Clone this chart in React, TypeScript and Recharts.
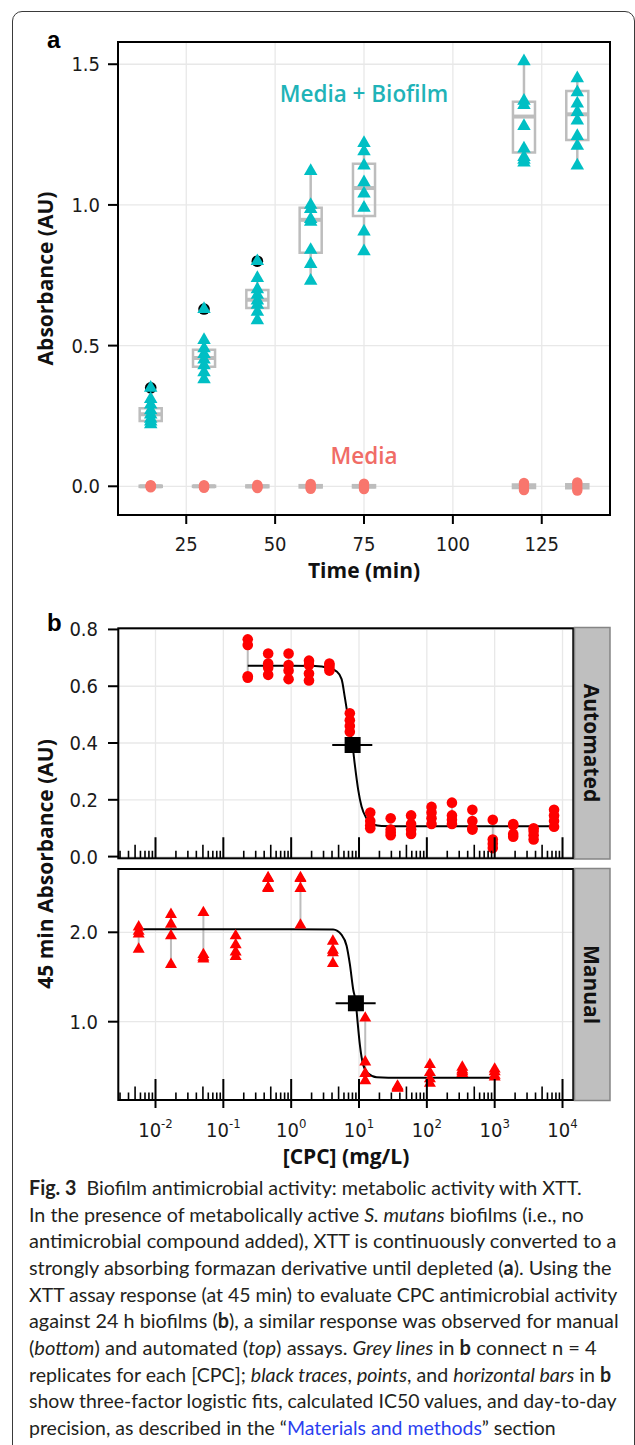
import React from "react";
import {
  ComposedChart,
  Scatter,
  Line,
  XAxis,
  YAxis,
  CartesianGrid,
  ReferenceLine,
  ReferenceArea,
} from "recharts";

// ---------------- Panel a data ----------------
const TIMES = [15, 30, 45, 60, 75, 120, 135];
const X_TICKS_A = [25, 50, 75, 100, 125];
const Y_TICKS_A = [0, 0.5, 1, 1.5];

const BIOFILM = [
  [0.35, 0.31, 0.29, 0.27, 0.255, 0.24, 0.23, 0.22],
  [0.63, 0.52, 0.49, 0.47, 0.45, 0.43, 0.405, 0.38],
  [0.8, 0.74, 0.7, 0.68, 0.66, 0.645, 0.62, 0.59],
  [1.12, 1.0, 0.985, 0.95, 0.94, 0.84, 0.79, 0.73],
  [1.22, 1.19, 1.14, 1.08, 1.04, 0.99, 0.905, 0.835],
  [1.51, 1.37, 1.355, 1.28, 1.2, 1.17, 1.16, 1.15],
  [1.45, 1.4, 1.36, 1.33, 1.3, 1.245, 1.21, 1.14],
];
const BIOFILM_OUTLIER = [0.35, 0.63, 0.8, null, null, null, null];
const BOX_LO = [0.22, 0.38, 0.59, 0.73, 0.835, 1.15, 1.14];
const BOX_Q1 = [0.232, 0.425, 0.634, 0.83, 0.961, 1.186, 1.231];
const BOX_MED = [0.256, 0.456, 0.663, 0.947, 1.06, 1.314, 1.322];
const BOX_Q3 = [0.277, 0.485, 0.698, 0.99, 1.146, 1.367, 1.405];
const BOX_HI = [0.31, 0.52, 0.74, 1.12, 1.22, 1.51, 1.45];

const MEDIA = [
  [0.004, 0.0, -0.004, 0.002],
  [0.004, 0.001, -0.003, -0.005],
  [0.005, 0.001, -0.003, -0.006],
  [0.008, 0.003, -0.004, -0.009],
  [0.009, 0.003, -0.004, -0.01],
  [0.012, 0.004, -0.005, -0.013],
  [0.014, 0.005, -0.006, -0.015],
];
const MEDIA_Q1 = [-0.002, -0.002, -0.003, -0.004, -0.004, -0.006, -0.007];
const MEDIA_MED = [0, 0, 0, 0, 0, 0, 0];
const MEDIA_Q3 = [0.002, 0.002, 0.003, 0.004, 0.004, 0.006, 0.007];

// ---------------- Panel b data ----------------
const AUTO_CONC = [0.229, 0.458, 0.916, 1.83, 3.66, 7.32, 14.65, 29.3, 58.6, 117.2, 234.4, 468.8, 937.5, 1875, 3750, 7500];
const AUTO_VALS = [
  [0.765, 0.745, 0.635, 0.63],
  [0.715, 0.68, 0.665, 0.64],
  [0.715, 0.675, 0.655, 0.625],
  [0.69, 0.675, 0.645, 0.62],
  [0.68, 0.675, 0.665, 0.655],
  [0.505, 0.48, 0.46, 0.44],
  [0.155, 0.125, 0.11, 0.1],
  [0.135, 0.095, 0.085, 0.075],
  [0.145, 0.115, 0.095, 0.08],
  [0.175, 0.155, 0.135, 0.115],
  [0.19, 0.145, 0.13, 0.115],
  [0.165, 0.125, 0.1, 0.095],
  [0.13, 0.06, 0.045, 0.03],
  [0.115, 0.11, 0.08, 0.07],
  [0.1, 0.09, 0.075, 0.06],
  [0.165, 0.145, 0.125, 0.105],
];
const MANUAL_CONC = [0.00565, 0.0169, 0.0508, 0.152, 0.457, 1.37, 4.12, 12.35, 37.0, 111, 333, 1000];
const MANUAL_VALS = [
  [2.06, 2.01, 1.98, 1.81],
  [2.2, 2.09, 1.96, 1.64],
  [2.22, 1.75, 1.72, 1.7],
  [1.96, 1.86, 1.78, 1.73],
  [2.61, 2.6, 2.5, 2.49],
  [2.61, 2.6, 2.49, 2.08],
  [1.9, 1.8, 1.77, 1.65],
  [1.04, 0.55, 0.42, 0.34],
  [0.28, 0.27, 0.26, 0.255],
  [0.52, 0.43, 0.36, 0.31],
  [0.49, 0.46, 0.44, 0.42],
  [0.47, 0.44, 0.4, 0.38],
];
const AUTO_FIT_X = [0.229, 1.0, 2.24, 3.52, 4.68, 5.54, 6.19, 7.16, 8.05, 8.71, 9.73, 10.9, 12.9, 16.2, 21.5, 50, 7500];
const AUTO_FIT_Y = [0.672, 0.672, 0.671, 0.664, 0.652, 0.625, 0.56, 0.465, 0.39, 0.32, 0.235, 0.176, 0.135, 0.113, 0.108, 0.107, 0.107];
const MANUAL_FIT_X = [0.00565, 1.0, 4.16, 5.54, 6.56, 7.34, 8.21, 9.0, 9.52, 10.3, 11.5, 13.7, 18.2, 27, 1000];
const MANUAL_FIT_Y = [2.034, 2.034, 2.03, 1.97, 1.85, 1.64, 1.36, 1.206, 1.0, 0.74, 0.52, 0.42, 0.378, 0.374, 0.373];
const AUTO_IC50 = { x: 8.05, y: 0.393, lo: 4.03, hi: 15.7 };
const MANUAL_IC50 = { x: 9.0, y: 1.206, lo: 4.52, hi: 17.6 };
const X_TICKS_B = [0.01, 0.1, 1, 10, 100, 1000, 10000];
const Y_TICKS_AUTO = [0, 0.2, 0.4, 0.6, 0.8];
const Y_TICKS_MANUAL = [1, 2];
const LOG_DECADES = [0.001, 0.01, 0.1, 1, 10, 100, 1000, 10000];
const LOG_MULTS = [1, 2, 3, 4, 5, 6, 7, 8, 9];

// ---------------- styles ----------------
const TICK_FONT = "'Liberation Sans Narrow', 'Arial Narrow', 'DejaVu Sans Condensed', sans-serif";
const TITLE_FONT = "'Open Sans', 'Noto Sans', sans-serif";
const CAP_FONT = "Lato, 'Noto Sans', sans-serif";
const TEAL = "#00BFC4";
const SALMON = "#F8766D";
const RED = "#FF0000";
const BOX_GREY = "#bdbdbd";
const GRID = "#e8e8e8";
const BOX_HALF = 3.1;
const B_DOMAIN: [number, number] = [0.0028, 14420];
const A_X_DOMAIN: [number, number] = [5.8, 144.2];
const A_Y_DOMAIN: [number, number] = [-0.102, 1.579];
const AUTO_Y_DOMAIN: [number, number] = [-0.006, 0.804];
const MANUAL_Y_DOMAIN: [number, number] = [0.124, 2.708];

// ---------------- derived series ----------------
const biofilmPts = TIMES.flatMap((t, i) => BIOFILM[i].map((v) => ({ x: t, y: v })));
const outlierPts = TIMES.flatMap((t, i) => (BIOFILM_OUTLIER[i] == null ? [] : [{ x: t, y: BIOFILM_OUTLIER[i] as number }]));
const mediaPts = TIMES.flatMap((t, i) => MEDIA[i].map((v) => ({ x: t, y: v })));
const autoPts = AUTO_CONC.flatMap((c, i) => AUTO_VALS[i].map((v) => ({ x: c, y: v })));
const manualPts = MANUAL_CONC.flatMap((c, i) => MANUAL_VALS[i].map((v) => ({ x: c, y: v })));
const autoFit = AUTO_FIT_X.map((x, i) => ({ x, y: AUTO_FIT_Y[i] }));
const manualFit = MANUAL_FIT_X.map((x, i) => ({ x, y: MANUAL_FIT_Y[i] }));
const logTicks = (yBase: number) =>
  LOG_DECADES.flatMap((d) =>
    LOG_MULTS.map((m) => ({ x: d * m, y: yBase, kind: m === 1 ? "major" : m === 5 ? "mid" : "minor" }))
  ).filter((p) => p.x >= B_DOMAIN[0] && p.x <= B_DOMAIN[1]);

// ---------------- shapes ----------------
const tri = (fill: string, w: number) => (p: any) => {
  const { cx, cy } = p;
  if (cx == null || cy == null) return <g />;
  const h = w * 0.866;
  return (
    <polygon
      points={`${cx},${cy - (2 * h) / 3} ${cx - w / 2},${cy + h / 3} ${cx + w / 2},${cy + h / 3}`}
      fill={fill}
    />
  );
};
const dot = (fill: string, r: number) => (p: any) =>
  p.cx == null ? <g /> : <circle cx={p.cx} cy={p.cy} r={r} fill={fill} />;
const square = (s: number) => (p: any) =>
  p.cx == null ? <g /> : <rect x={p.cx - s / 2} y={p.cy - s / 2} width={s} height={s} fill="#000" />;
const logTickShape = (p: any) => {
  const kind = p.payload?.kind;
  const len = kind === "major" ? 21 : kind === "mid" ? 13.5 : 7.5;
  return <line x1={p.cx} x2={p.cx} y1={p.cy} y2={p.cy - len} stroke="#000" strokeWidth={kind === "major" ? 2 : 1.6} />;
};

// ---------------- ticks ----------------
const XTickA = (p: any) => (
  <text x={p.x} y={p.y} dy={24.5} textAnchor="middle" fontFamily={TICK_FONT} fontSize={20} fill="#1a1a1a">
    {p.payload.value}
  </text>
);
const YTick = (p: any) => (
  <text x={p.x} y={p.y} dy={7} textAnchor="end" fontFamily={TICK_FONT} fontSize={20} fill="#1a1a1a">
    {Number(p.payload.value).toFixed(1)}
  </text>
);
const XTickLog = (p: any) => {
  const e = Math.round(Math.log10(p.payload.value));
  return (
    <text x={p.x} y={p.y} dy={26.5} textAnchor="middle" fontFamily={TICK_FONT} fontSize={20} fill="#1a1a1a">
      <tspan>10</tspan>
      <tspan dy={-9} fontSize={13}>{String(e)}</tspan>
    </text>
  );
};

const tickLine = { stroke: "#000", strokeWidth: 2 };

function PanelA() {
  return (
    <ComposedChart width={635} height={600} margin={{ top: 42, right: 25, bottom: 0, left: 0 }}>
      <CartesianGrid stroke={GRID} strokeWidth={1.3} />
      <XAxis
        type="number"
        dataKey="x"
        domain={A_X_DOMAIN}
        allowDataOverflow
        ticks={X_TICKS_A}
        interval={0}
        height={85}
        axisLine={false}
        tickLine={tickLine}
        tickSize={9}
        tickMargin={2}
        tick={XTickA}
      />
      <YAxis
        type="number"
        dataKey="y"
        domain={A_Y_DOMAIN}
        allowDataOverflow
        ticks={Y_TICKS_A}
        interval={0}
        width={118}
        axisLine={false}
        tickLine={tickLine}
        tickSize={10}
        tickMargin={8}
        tick={YTick}
      />
      {TIMES.map((t, i) => (
        <ReferenceLine key={`wl${i}`} segment={[{ x: t, y: BOX_LO[i] }, { x: t, y: BOX_Q1[i] }]} stroke={BOX_GREY} strokeWidth={2.5} />
      ))}
      {TIMES.map((t, i) => (
        <ReferenceLine key={`wh${i}`} segment={[{ x: t, y: BOX_Q3[i] }, { x: t, y: BOX_HI[i] }]} stroke={BOX_GREY} strokeWidth={2.5} />
      ))}
      {TIMES.map((t, i) => (
        <ReferenceArea key={`bx${i}`} x1={t - BOX_HALF} x2={t + BOX_HALF} y1={BOX_Q1[i]} y2={BOX_Q3[i]} fill="none" fillOpacity={0} stroke={BOX_GREY} strokeWidth={2.5} />
      ))}
      {TIMES.map((t, i) => (
        <ReferenceLine key={`md${i}`} segment={[{ x: t - BOX_HALF, y: BOX_MED[i] }, { x: t + BOX_HALF, y: BOX_MED[i] }]} stroke={BOX_GREY} strokeWidth={4} />
      ))}
      {TIMES.map((t, i) => (
        <ReferenceArea key={`mbx${i}`} x1={t - BOX_HALF} x2={t + BOX_HALF} y1={MEDIA_Q1[i]} y2={MEDIA_Q3[i]} fill={BOX_GREY} stroke={BOX_GREY} strokeWidth={2.5} fillOpacity={1} />
      ))}
      {TIMES.map((t, i) => (
        <ReferenceLine key={`mmd${i}`} segment={[{ x: t - BOX_HALF, y: MEDIA_MED[i] }, { x: t + BOX_HALF, y: MEDIA_MED[i] }]} stroke={BOX_GREY} strokeWidth={4} />
      ))}
      <Scatter data={mediaPts} shape={dot(SALMON, 5.2)} isAnimationActive={false} />
      <Scatter data={outlierPts} shape={dot("#000", 5.8)} isAnimationActive={false} />
      <Scatter data={biofilmPts} shape={tri(TEAL, 13.5)} isAnimationActive={false} />
    </ComposedChart>
  );
}

function PanelB({ which }: { which: "auto" | "manual" }) {
  const auto = which === "auto";
  const pts = auto ? autoPts : manualPts;
  const conc = auto ? AUTO_CONC : MANUAL_CONC;
  const vals = auto ? AUTO_VALS : MANUAL_VALS;
  const fit = auto ? autoFit : manualFit;
  const ic = auto ? AUTO_IC50 : MANUAL_IC50;
  const yDom = auto ? AUTO_Y_DOMAIN : MANUAL_Y_DOMAIN;
  return (
    <ComposedChart
      width={635}
      height={auto ? 270 : 310}
      margin={auto ? { top: 28.3, right: 61.7, bottom: 11.7, left: 0 } : { top: 9, right: 61.7, bottom: 0, left: 0 }}
    >
      <CartesianGrid stroke={GRID} strokeWidth={1.3} />
      <XAxis
        type="number"
        dataKey="x"
        scale="log"
        domain={B_DOMAIN}
        allowDataOverflow
        ticks={X_TICKS_B}
        interval={0}
        hide={auto}
        height={70}
        axisLine={false}
        tickLine={tickLine}
        tickSize={8}
        tickMargin={2}
        tick={XTickLog}
      />
      <YAxis
        type="number"
        dataKey="y"
        domain={yDom}
        allowDataOverflow
        ticks={auto ? Y_TICKS_AUTO : Y_TICKS_MANUAL}
        interval={0}
        width={118}
        axisLine={false}
        tickLine={tickLine}
        tickSize={10}
        tickMargin={10}
        tick={YTick}
      />
      {conc.map((c, i) => (
        <ReferenceLine
          key={`g${i}`}
          segment={[{ x: c, y: Math.min(...vals[i]) }, { x: c, y: Math.max(...vals[i]) }]}
          stroke={BOX_GREY}
          strokeWidth={2}
        />
      ))}
      <Scatter data={pts} shape={auto ? dot(RED, 5.3) : tri(RED, 12)} isAnimationActive={false} />
      <Line data={fit} dataKey="y" type="monotone" dot={false} stroke="#000" strokeWidth={2} isAnimationActive={false} />
      <ReferenceLine segment={[{ x: ic.lo, y: ic.y }, { x: ic.hi, y: ic.y }]} stroke="#000" strokeWidth={2.2} />
      <Scatter data={[{ x: ic.x, y: ic.y }]} shape={square(16)} isAnimationActive={false} />
      <Scatter data={logTicks(yDom[0])} shape={logTickShape} isAnimationActive={false} />
    </ComposedChart>
  );
}

const B = ({ children }: any) => <tspan fontWeight={700}>{children}</tspan>;
const I = ({ children }: any) => <tspan fontStyle="italic">{children}</tspan>;

const CAPTION_X = 29;
const CAPTION_ENDS = [581.6, 583.6, 616.5, 611.6, 617.3, 618.6, 596.8, 611.2, 616.5, 555.7];
const CAPTION_LINES: React.ReactNode[] = [
  <>
    <B>Fig. 3</B>
    <tspan>{"  Biofilm antimicrobial activity: metabolic activity with XTT."}</tspan>
  </>,
  <>
    <tspan>{"In the presence of metabolically active "}</tspan>
    <I>S. mutans</I>
    <tspan>{" biofilms (i.e., no"}</tspan>
  </>,
  <tspan>antimicrobial compound added), XTT is continuously converted to a</tspan>,
  <>
    <tspan>{"strongly absorbing formazan derivative until depleted ("}</tspan>
    <B>a</B>
    <tspan>{"). Using the"}</tspan>
  </>,
  <tspan>XTT assay response (at 45 min) to evaluate CPC antimicrobial activity</tspan>,
  <>
    <tspan>{"against 24 h biofilms ("}</tspan>
    <B>b</B>
    <tspan>{"), a similar response was observed for manual"}</tspan>
  </>,
  <>
    <tspan>(</tspan>
    <I>bottom</I>
    <tspan>{") and automated ("}</tspan>
    <I>top</I>
    <tspan>{") assays. "}</tspan>
    <I>Grey lines</I>
    <tspan>{" in "}</tspan>
    <B>b</B>
    <tspan>{" connect n = 4"}</tspan>
  </>,
  <>
    <tspan>{"replicates for each [CPC]; "}</tspan>
    <I>black traces</I>
    <tspan>{", "}</tspan>
    <I>points</I>
    <tspan>{", and "}</tspan>
    <I>horizontal bars</I>
    <tspan>{" in "}</tspan>
    <B>b</B>
  </>,
  <tspan>show three-factor logistic fits, calculated IC50 values, and day-to-day</tspan>,
  <>
    <tspan>{"precision, as described in the \u201C"}</tspan>
    <tspan fill="#2b3ff0">Materials and methods</tspan>
    <tspan>{"\u201D section"}</tspan>
  </>,
];

function Overlay() {
  const titleProps = { fontFamily: TITLE_FONT, fontWeight: 700, fontSize: 21, fill: "#111" } as const;
  return (
    <svg width={635} height={1445} style={{ position: "absolute", left: 0, top: 0, pointerEvents: "none" }}>
      {/* plot borders */}
      <rect x={118} y={42} width={492} height={473} fill="none" stroke="#000" strokeWidth={2} />
      <rect x={118.3} y={628.3} width={455} height={230} fill="none" stroke="#000" strokeWidth={2} />
      <rect x={118.3} y={869} width={455} height={231} fill="none" stroke="#000" strokeWidth={2} />
      {/* strips */}
      <rect x={574.5} y={627.5} width={35.5} height={231.5} fill="#bfbfbf" stroke="#858585" strokeWidth={1.5} />
      <rect x={574.5} y={868.5} width={35.5} height={232} fill="#bfbfbf" stroke="#858585" strokeWidth={1.5} />
      <text x={583.5} y={743} transform="rotate(90 583.5 743)" textAnchor="middle" {...titleProps} fontSize={21}>
        Automated
      </text>
      <text x={583.5} y={984.5} transform="rotate(90 583.5 984.5)" textAnchor="middle" {...titleProps} fontSize={21}>
        Manual
      </text>
      {/* panel letters */}
      <text x={47} y={48} fontFamily="'Liberation Sans', Arial, sans-serif" fontWeight={700} fontSize={24} fill="#000">a</text>
      <text x={47} y={630.5} fontFamily="'Liberation Sans', Arial, sans-serif" fontWeight={700} fontSize={24} fill="#000">b</text>
      {/* axis titles */}
      <text x={53} y={278.5} transform="rotate(-90 53 278.5)" textAnchor="middle" {...titleProps}>
        Absorbance (AU)
      </text>
      <text x={364} y={578} textAnchor="middle" {...titleProps}>
        Time (min)
      </text>
      <text x={53} y={864} transform="rotate(-90 53 864)" textAnchor="middle" {...titleProps}>
        45 min Absorbance (AU)
      </text>
      <text x={346} y={1164} textAnchor="middle" {...titleProps}>
        [CPC] (mg/L)
      </text>
      {/* group labels */}
      <text x={364} y={102} textAnchor="middle" fontFamily={TITLE_FONT} fontWeight={600} fontSize={22.5} fill="#1fb3b8">
        Media + Biofilm
      </text>
      <text x={364} y={464} textAnchor="middle" fontFamily={TITLE_FONT} fontWeight={600} fontSize={22.5} fill="#f06c66">
        Media
      </text>
      {/* caption */}
      {CAPTION_LINES.map((ln, i) => (
        <text
          key={i}
          x={CAPTION_X}
          y={1195 + i * 26.67}
          textLength={CAPTION_ENDS[i] - CAPTION_X}
          lengthAdjust="spacingAndGlyphs"
          fontFamily={CAP_FONT}
          fontSize={20}
          fill="#231f20"
          style={{ whiteSpace: "pre" }}
        >
          {ln}
        </text>
      ))}
    </svg>
  );
}

export default function App() {
  return (
    <div style={{ position: "absolute", left: 0, top: 0, width: 635, height: 1445, overflow: "hidden", background: "#fff" }}>
      <div
        style={{
          position: "absolute",
          left: 12,
          top: 11,
          width: 623,
          height: 1500,
          border: "1.3px solid #3a3a3a",
          borderRadius: 10,
          boxSizing: "border-box",
        }}
      />
      <div style={{ position: "absolute", left: 0, top: 0 }}>
        <PanelA />
      </div>
      <div style={{ position: "absolute", left: 0, top: 600 }}>
        <PanelB which="auto" />
      </div>
      <div style={{ position: "absolute", left: 0, top: 860 }}>
        <PanelB which="manual" />
      </div>
      <Overlay />
    </div>
  );
}
